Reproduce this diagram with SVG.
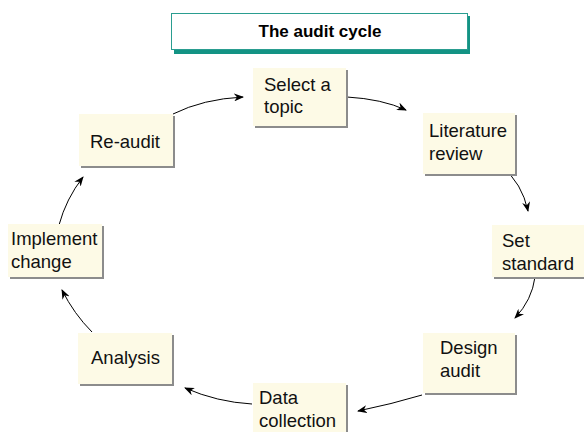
<svg xmlns="http://www.w3.org/2000/svg" width="584" height="432" viewBox="0 0 584 432">
<style>
.box{fill:#fdfae6;}
.sh{fill:#8c8c8c;}
.t{font-family:"Liberation Sans",Arial,sans-serif;font-size:18.5px;fill:#111;}
.title{font-family:"Liberation Sans",Arial,sans-serif;font-size:17px;font-weight:bold;fill:#000;}
.c{fill:none;stroke:#000;stroke-width:1;marker-end:url(#ah);}
</style>
<defs>
<marker id="ah" viewBox="0 0 10 8" refX="9" refY="4" markerWidth="10" markerHeight="8" markerUnits="userSpaceOnUse" orient="auto">
<path d="M0,0 L10,4 L0,8 L3,4 z" fill="#000"/>
</marker>
</defs>
<rect width="584" height="432" fill="#fff"/>
<g id="title">
<rect x="174" y="16" width="296" height="38" fill="#139384"/>
<rect x="171.5" y="13.5" width="296" height="36" fill="#fff" stroke="#2a9d90" stroke-width="1"/>
<text class="title" x="320" y="37" text-anchor="middle">The audit cycle</text>
</g>
<g id="connectors">
<path class="c" d="M173,114 Q203,99 243,97"/>
<path class="c" d="M347,97 Q382,99 406,110"/>
<path class="c" d="M502,167 Q522,183 528,211"/>
<path class="c" d="M535,277 Q532,300 515,318"/>
<path class="c" d="M422,395 Q392,404 358,411"/>
<path class="c" d="M252,404 Q217,402 185,388"/>
<path class="c" d="M92,332 Q74,314 62,290"/>
<path class="c" d="M59,225 Q66,199 83,177"/>
</g>
<g id="select">
<rect class="sh" x="255" y="70" width="93" height="58"/>
<rect class="box" x="253" y="68" width="93" height="58"/>
<text class="t" x="264" y="91">Select a</text>
<text class="t" x="264" y="113">topic</text>
</g>
<g id="literature">
<rect class="sh" x="425" y="115" width="92" height="61"/>
<rect class="box" x="423" y="113" width="92" height="61"/>
<text class="t" x="429" y="137">Literature</text>
<text class="t" x="429" y="160">review</text>
</g>
<g id="setstandard">
<rect class="sh" x="494" y="227" width="92" height="52"/>
<rect class="box" x="492" y="225" width="92" height="52"/>
<text class="t" x="502" y="247">Set</text>
<text class="t" x="502" y="270">standard</text>
</g>
<g id="design">
<rect class="sh" x="425" y="335" width="92" height="60"/>
<rect class="box" x="423" y="333" width="92" height="60"/>
<text class="t" x="440" y="354">Design</text>
<text class="t" x="440" y="377">audit</text>
</g>
<g id="data">
<rect class="sh" x="255" y="385" width="93" height="52"/>
<rect class="box" x="253" y="383" width="93" height="52"/>
<text class="t" x="259" y="404">Data</text>
<text class="t" x="259" y="427">collection</text>
</g>
<g id="analysis">
<rect class="sh" x="80" y="335" width="94" height="51"/>
<rect class="box" x="78" y="333" width="94" height="51"/>
<text class="t" x="91" y="364">Analysis</text>
</g>
<g id="implement">
<rect class="sh" x="10" y="226" width="94" height="53"/>
<rect class="box" x="8" y="224" width="94" height="53"/>
<text class="t" x="11" y="245">Implement</text>
<text class="t" x="11" y="268">change</text>
</g>
<g id="reaudit">
<rect class="sh" x="81" y="116" width="94" height="52"/>
<rect class="box" x="79" y="114" width="94" height="52"/>
<text class="t" x="90" y="148">Re-audit</text>
</g>
</svg>
